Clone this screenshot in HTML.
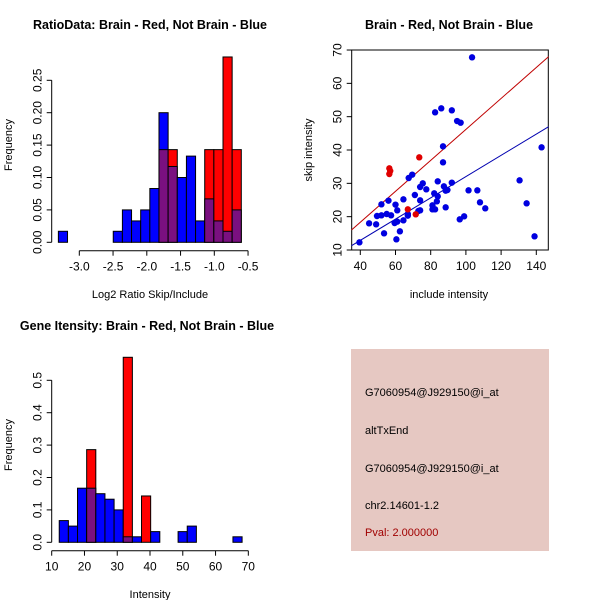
<!DOCTYPE html>
<html><head><meta charset="utf-8"><style>
body{margin:0;background:#fff}
svg{display:block;font-family:"Liberation Sans",sans-serif}
</style></head><body>
<svg id="s" width="600" height="600" xmlns="http://www.w3.org/2000/svg">
<rect width="600" height="600" fill="#fff"/>
<text x="150" y="29" text-anchor="middle" font-size="12.5" font-weight="bold">RatioData: Brain - Red, Not Brain - Blue</text>
<text x="449" y="29" text-anchor="middle" font-size="12.5" font-weight="bold">Brain - Red, Not Brain - Blue</text>
<text x="147" y="330" text-anchor="middle" font-size="12.5" font-weight="bold">Gene Itensity: Brain - Red, Not Brain - Blue</text>
<text x="150" y="298" text-anchor="middle" font-size="11">Log2 Ratio Skip/Include</text>
<text x="12" y="145" text-anchor="middle" font-size="11" transform="rotate(-90 12 145)">Frequency</text>
<text x="150" y="598" text-anchor="middle" font-size="11">Intensity</text>
<text x="12" y="445" text-anchor="middle" font-size="11" transform="rotate(-90 12 445)">Frequency</text>
<text x="449" y="298" text-anchor="middle" font-size="11">include intensity</text>
<text x="312" y="150" text-anchor="middle" font-size="11" transform="rotate(-90 312 150)">skip intensity</text>
<g>
<rect x="351" y="349" width="198" height="202" fill="#e6c8c2"/>
<text x="365" y="396" font-size="11">G7060954@J929150@i_at</text>
<text x="365" y="434" font-size="11">altTxEnd</text>
<text x="365" y="472" font-size="11">G7060954@J929150@i_at</text>
<text x="365" y="509" font-size="11">chr2.14601-1.2</text>
<text x="365" y="536" font-size="11" fill="#a00000">Pval: 2.000000</text>
</g>
</svg>
<script>
const ratioStart=-3.31, ratioBin=0.1355;
const ratioBlue=[0.017,0,0,0,0,0,0.017,0.05,0.033,0.05,0.083,0.2,0.117,0.1,0.133,0.033,0.067,0.033,0.017,0.05];
const ratioRed=[0,0,0,0,0,0,0,0,0,0,0,0.143,0.143,0,0,0,0.143,0.143,0.286,0.143];
const ratioXTicks=[-3.0,-2.5,-2.0,-1.5,-1.0,-0.5];
const ratioYTicks=[0,0.05,0.10,0.15,0.20,0.25];
const intStart=12.3, intBin=2.79;
const intBlue=[0.067,0.05,0.167,0.167,0.15,0.133,0.1,0.017,0.017,0,0.033,0,0,0.033,0.05,0,0,0,0,0.017];
const intRed=[0,0,0,0.286,0,0,0,0.571,0,0.143,0,0,0,0,0,0,0,0,0,0];
const intXTicks=[10,20,30,40,50,60,70];
const intYTicks=[0,0.1,0.2,0.3,0.4,0.5];
const blueX=[39.5,45,49,49.5,52,52,53.5,55,56,57.5,60,59.5,61,60.5,61,62.5,64.5,64.5,67,67,67.5,69.5,71,73,74,74,74,75.5,77.5,81,81,82,82.5,82.5,83.5,84,84,86,87,87,87.5,88.5,88.5,89.5,92,92,95,97,96.5,99,101.5,103.5,106.5,108,111,130.5,134.5,139,143];
const blueY=[12.3,18,17.7,20.2,20.4,23.7,15,20.8,24.8,20.4,23.6,18.1,18.5,13.2,21.9,15.6,18.9,25.2,20.8,20.3,31.6,32.6,26.5,21.7,21.9,28.9,24.9,30,28.2,23.4,22.2,27,22.2,51.3,24.6,26.1,30.6,52.5,41.1,36.3,29.1,27.8,22.8,28,51.9,30.2,48.7,48.2,19.2,20.1,27.9,67.8,27.9,24.3,22.5,30.9,24,14.1,40.8];
const redX=[56.5,57,56.5,73.5,67,71.5];
const redY=[34.5,33.7,32.8,37.8,22.2,20.7];
const redLine=[[35,16],[147,68]];
const blueLine=[[35,11.3],[147,47]];
const scXTicks=[40,60,80,100,120,140];
const scYTicks=[10,20,30,40,50,60,70];

const S=document.getElementById('s'),NS='http://www.w3.org/2000/svg';
function mk(t,a,p){const e=document.createElementNS(NS,t);for(const k in a)e.setAttribute(k,a[k]);(p||S).appendChild(e);return e;}

function hist(name,start,bw,blue,red,xt,yt,sx,sy,axY,axX,yFmt){
  const g=mk('g',{});
  
  
  const y0=sy(0);
  for(let i=0;i<blue.length;i++){
    const xa=sx(start+i*bw),xb=sx(start+(i+1)*bw);
    const b=blue[i],r=red[i],m=Math.min(b,r),M=Math.max(b,r);
    if(M<=0)continue;
    const top=mk('rect',{x:xa,y:sy(M),width:xb-xa,height:y0-sy(M),fill:b>=r?'#0000ff':'#ff0000',stroke:'#000','stroke-width':1},g);
    
    
    if(m>0){
      const p=mk('rect',{x:xa,y:sy(m),width:xb-xa,height:y0-sy(m),fill:'#7a1080',stroke:'#000','stroke-width':1},g);
      
      
    }
  }
  mk('line',{x1:sx(xt[0]),x2:sx(xt[xt.length-1]),y1:axX,y2:axX,stroke:'#000'},g);
  xt.forEach(v=>{mk('line',{x1:sx(v),x2:sx(v),y1:axX,y2:axX+5,stroke:'#000'},g);
    const t=mk('text',{x:sx(v),y:axX+20,'text-anchor':'middle','font-size':12},g);t.textContent=Number.isInteger(xt[1])?v.toFixed(0):v.toFixed(1);});
  mk('line',{x1:axY,x2:axY,y1:sy(yt[0]),y2:sy(yt[yt.length-1]),stroke:'#000'},g);
  yt.forEach(v=>{mk('line',{x1:axY,x2:axY-5,y1:sy(v),y2:sy(v),stroke:'#000'},g);
    const t=mk('text',{x:axY-10,y:sy(v),'text-anchor':'middle','font-size':12,transform:`rotate(-90 ${axY-10} ${sy(v)})`},g);t.textContent=yFmt(v);});
}
hist('ratio-histogram',ratioStart,ratioBin,ratioBlue,ratioRed,ratioXTicks,ratioYTicks,
  v=>79.3+(v+3)*67.5,v=>242.3-v*648,51.7,250.7,v=>v.toFixed(2));
hist('intensity-histogram',intStart,intBin,intBlue,intRed,intXTicks,intYTicks,
  v=>51.7+(v-10)*3.277,v=>542.3-v*324,51.7,550.7,v=>v.toFixed(1));

const sx=v=>360.3+(v-40)*1.76, sy=v=>250-(v-10)*3.333;
const g=mk('g',{});


mk('rect',{x:351.7,y:50,width:196.6,height:200,fill:'none',stroke:'#000'},g);
scXTicks.forEach(v=>{mk('line',{x1:sx(v),x2:sx(v),y1:250,y2:255,stroke:'#000'},g);
  const t=mk('text',{x:sx(v),y:270,'text-anchor':'middle','font-size':12},g);t.textContent=v;});
scYTicks.forEach(v=>{mk('line',{x1:351.7,x2:346.7,y1:sy(v),y2:sy(v),stroke:'#000'},g);
  const t=mk('text',{x:341.7,y:sy(v),'text-anchor':'middle','font-size':12,transform:`rotate(-90 341.7 ${sy(v)})`},g);t.textContent=v;});
const rl=mk('line',{x1:sx(redLine[0][0]),y1:sy(redLine[0][1]),x2:sx(redLine[1][0]),y2:sy(redLine[1][1]),stroke:'#c00000'},g);


const bl=mk('line',{x1:sx(blueLine[0][0]),y1:sy(blueLine[0][1]),x2:sx(blueLine[1][0]),y2:sy(blueLine[1][1]),stroke:'#0000b0'},g);


blueX.forEach((v,i)=>{const c=mk('circle',{cx:sx(v),cy:sy(blueY[i]),r:3.2,fill:'#0000e0'},g);
  
  });
redX.forEach((v,i)=>{const c=mk('circle',{cx:sx(v),cy:sy(redY[i]),r:3.2,fill:'#e00000'},g);
  
  });
</script>
</body></html>
